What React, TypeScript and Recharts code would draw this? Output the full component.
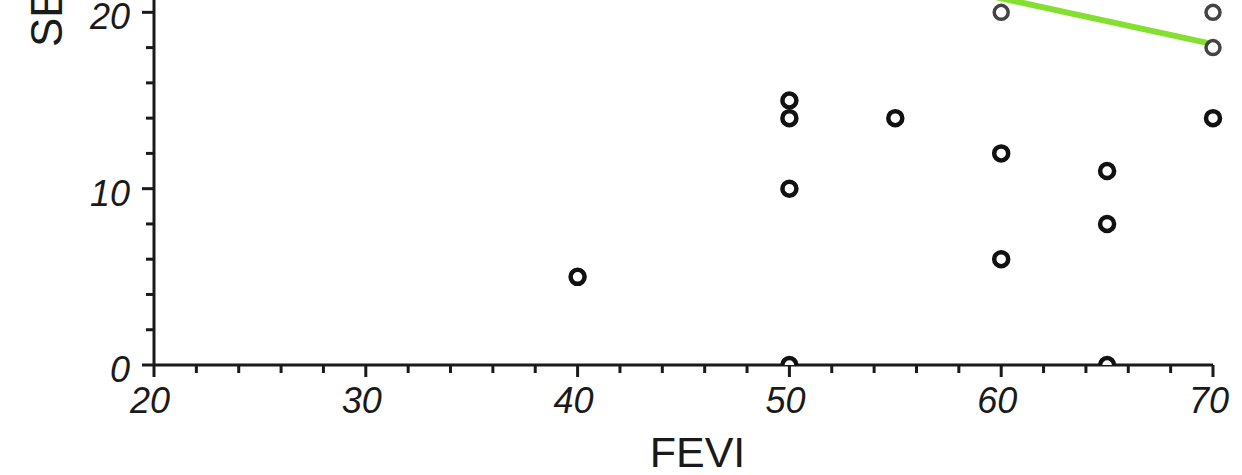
import { Scatter, ScatterChart, XAxis, YAxis } from "recharts"

const xTicks = [20, 22, 24, 26, 28, 30, 32, 34, 36, 38, 40, 42, 44, 46, 48, 50, 52, 54, 56, 58, 60, 62, 64, 66, 68, 70]
const yTicks = [0, 2, 4, 6, 8, 10, 12, 14, 16, 18, 20]
const xLabels = [20, 30, 40, 50, 60, 70]
const yLabels = [0, 10, 20]

const darkPoints = [
  { x: 40, y: 5 },
  { x: 50, y: 15 },
  { x: 50, y: 14 },
  { x: 50, y: 10 },
  { x: 50, y: 0 },
  { x: 55, y: 14 },
  { x: 60, y: 12 },
  { x: 60, y: 6 },
  { x: 65, y: 11 },
  { x: 65, y: 8 },
  { x: 65, y: 0 },
  { x: 70, y: 14 },
]
const lightPoints = [
  { x: 60, y: 20 },
  { x: 70, y: 20 },
  { x: 70, y: 18 },
]
const fitLine = [
  { x: 50, y: 23.4 },
  { x: 70, y: 18.2 },
]

const font = "'Liberation Sans', Arial, sans-serif"
const ink = "#1a1a1a"

function XTick(props: any) {
  const { x, y, payload } = props
  const major = xLabels.includes(payload.value)
  return (
    <g>
      <line x1={x} y1={y} x2={x} y2={y + (major ? 12 : 8)} stroke={ink} strokeWidth={3} />
      {major && (
        <text x={x - 4} y={y + 48} textAnchor="middle" fontSize={36} fontStyle="italic" fontFamily={font} fill={ink}>
          {payload.value}
        </text>
      )}
    </g>
  )
}

function YTick(props: any) {
  const { x, y, payload } = props
  const major = yLabels.includes(payload.value)
  return (
    <g>
      <line x1={x - (major ? 12 : 8)} y1={y} x2={x} y2={y} stroke={ink} strokeWidth={3} />
      {major && (
        <text x={x - 24} y={y + 17} textAnchor="end" fontSize={36} fontStyle="italic" fontFamily={font} fill={ink}>
          {payload.value}
        </text>
      )}
    </g>
  )
}

const dot = (color: string, w: number) => (p: any) =>
  <circle cx={p.cx} cy={p.cy} r={7} fill="#fff" stroke={color} strokeWidth={w} />

export default function App() {
  return (
    <div style={{ position: "absolute", left: 0, top: 0, background: "#fff" }}>
      <ScatterChart width={1242} height={475} margin={{ top: 0, right: 29, left: 0, bottom: 0 }}>
        <XAxis
          type="number"
          dataKey="x"
          domain={[20, 70]}
          ticks={xTicks}
          interval={0}
          tickSize={0}
          tickMargin={0}
          tick={<XTick />}
          height={110}
          axisLine={{ stroke: ink, strokeWidth: 3 }}
          tickLine={false}
          label={{ value: "FEVI", position: "insideBottom", offset: 8, dx: 14, fontSize: 43, fontFamily: font, fill: ink }}
        />
        <YAxis
          type="number"
          dataKey="y"
          domain={[0, 20.7]}
          allowDataOverflow
          ticks={yTicks}
          interval={0}
          tickSize={0}
          tickMargin={0}
          tick={<YTick />}
          width={154}
          axisLine={{ stroke: ink, strokeWidth: 3 }}
          tickLine={false}
          label={{
            content: () => (
              <text x={62} y={47} transform="rotate(-90, 62, 47)" fontSize={44} fontFamily={font} fill={ink}>
                SE
              </text>
            ),
          }}
        />
        <Scatter
          data={fitLine}
          line={{ stroke: "#84e030", strokeWidth: 6 }}
          shape={() => <g />}
          isAnimationActive={false}
        />
        <Scatter data={lightPoints} shape={dot("#444", 3.5)} isAnimationActive={false} />
        <Scatter data={darkPoints} shape={dot("#111", 4.5)} isAnimationActive={false} />
      </ScatterChart>
    </div>
  )
}
